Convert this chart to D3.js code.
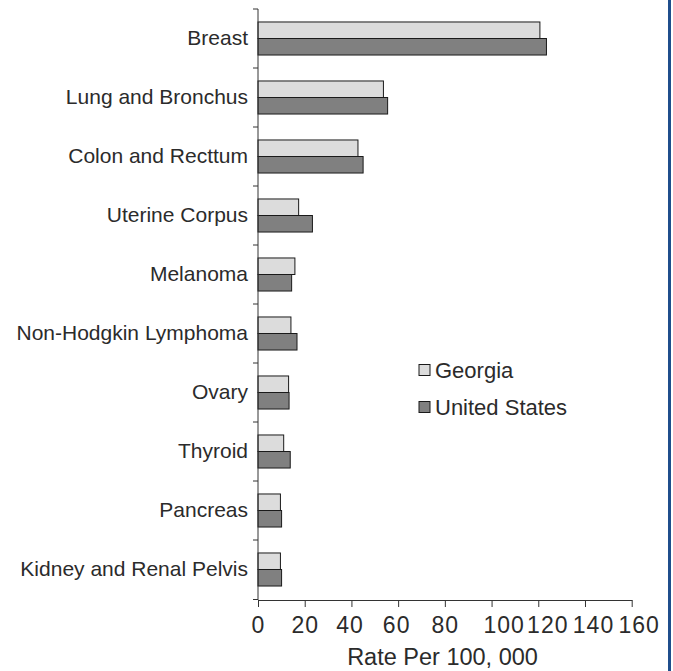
<!DOCTYPE html>
<html>
<head>
<meta charset="utf-8">
<script src="https://cdn.jsdelivr.net/npm/d3@7"></script>
<style>
  html, body { margin: 0; padding: 0; background: #fff; }
  #chart { width: 673px; height: 671px; }
  text { font-family: "Liberation Sans", Arial, sans-serif; fill: #2b2b2b; }
</style>
</head>
<body>
<div id="chart"></div>
<script>
// Cancer incidence, rate per 100,000
const categories = [
    "Breast", "Lung and Bronchus", "Colon and Recttum", "Uterine Corpus",
    "Melanoma", "Non-Hodgkin Lymphoma", "Ovary", "Thyroid", "Pancreas",
    "Kidney and Renal Pelvis"
];
const seriesNames = ["Georgia", "United States"];
const georgia = [120.7, 53.7, 42.8, 17.4, 15.8, 14.1, 13.1, 11.0, 9.6, 9.6];
const unitedStates = [123.5, 55.5, 45.0, 23.3, 14.4, 16.7, 13.3, 13.8, 10.1, 10.1];
const xTicks = [0, 20, 40, 60, 80, 100, 120, 140, 160];

const colors = { "Georgia": "#dcdcdc", "United States": "#808080" };

const width = 673, height = 671;
const plotLeft = 258, plotRight = 631.7, plotTop = 9, plotBottom = 599;

const svg = d3.select("#chart")
    .append("svg")
    .attr("width", width)
    .attr("height", height);

const x = d3.scaleLinear()
    .domain([0, 160])
    .range([plotLeft, plotRight]);

const y0 = d3.scaleBand()
    .domain(categories)
    .range([plotTop, plotBottom])
    .paddingInner(0.44)
    .paddingOuter(0.22);

const y1 = d3.scaleBand()
    .domain(seriesNames)
    .range([0, y0.bandwidth()]);

const rows = categories.map((c, i) => ({
    category: c,
    values: [
        { series: "Georgia", value: georgia[i] },
        { series: "United States", value: unitedStates[i] }
    ]
}));

// bars
const groups = svg.append("g").selectAll("g")
    .data(rows)
    .enter()
    .append("g")
    .attr("transform", d => `translate(0,${y0(d.category)})`);

groups.selectAll("rect")
    .data(d => d.values)
    .enter()
    .append("rect")
    .attr("x", x(0))
    .attr("y", d => y1(d.series))
    .attr("width", d => x(d.value) - x(0))
    .attr("height", y1.bandwidth())
    .attr("fill", d => colors[d.series])
    .attr("stroke", "#1a1a1a")
    .attr("stroke-width", 1);

// y axis: line + ticks between the groups
const step = y0.step();
const boundaries = categories.map(c => y0(c) - step * y0.paddingInner() / 2);
boundaries.push(plotBottom + 0.5);

const yAxis = svg.append("g");
yAxis.append("line")
    .attr("x1", plotLeft).attr("x2", plotLeft)
    .attr("y1", plotTop).attr("y2", plotBottom + 1)
    .attr("stroke", "#333");
yAxis.selectAll("line.tick")
    .data(boundaries)
    .enter()
    .append("line")
    .attr("class", "tick")
    .attr("x1", plotLeft - 5).attr("x2", plotLeft)
    .attr("y1", d => d).attr("y2", d => d)
    .attr("stroke", "#333");

yAxis.selectAll("text")
    .data(categories)
    .enter()
    .append("text")
    .attr("x", plotLeft - 10)
    .attr("y", d => y0(d) + y0.bandwidth() / 2 + 6)
    .attr("text-anchor", "end")
    .attr("font-size", 21)
    .text(d => d);

// x axis
const xAxis = svg.append("g")
    .attr("transform", `translate(0,${plotBottom + 1})`)
    .call(d3.axisBottom(x).tickValues(xTicks).tickSize(7).tickSizeOuter(0).tickPadding(10));

xAxis.select(".domain").attr("stroke", "#333");
xAxis.selectAll(".tick line").attr("stroke", "#333");
xAxis.selectAll(".tick text")
    .attr("font-size", 23)
    .attr("font-family", "Liberation Sans, Arial, sans-serif")
    .attr("letter-spacing", "1px")
    .attr("fill", "#2b2b2b");

// the crowded labels on the right sit a bit to the right of their tick
const labelShift = { 40: -2, 60: -2, 100: 12, 120: 9, 140: 8, 160: 7 };
xAxis.selectAll(".tick text")
    .attr("dx", d => labelShift[d] || 0);

svg.append("text")
    .attr("x", (346 + 539) / 2)
    .attr("y", 665)
    .attr("text-anchor", "middle")
    .attr("font-size", 23.5)
    .text("Rate Per 100, 000");

// legend
const legend = svg.append("g")
    .attr("transform", "translate(419,0)");

const legendItems = legend.selectAll("g")
    .data(seriesNames)
    .enter()
    .append("g")
    .attr("transform", (d, i) => `translate(0,${370 + i * 37})`);

legendItems.append("rect")
    .attr("x", 0).attr("y", -5.5)
    .attr("width", 11).attr("height", 11)
    .attr("fill", d => colors[d])
    .attr("stroke", "#1a1a1a");

legendItems.append("text")
    .attr("x", 16)
    .attr("y", 8)
    .attr("font-size", 22)
    .text(d => d);

// blue frame edge on the right
svg.append("rect")
    .attr("x", 668)
    .attr("y", 0)
    .attr("width", 3)
    .attr("height", height)
    .attr("fill", "#1f4e8c");
</script>
</body>
</html>
